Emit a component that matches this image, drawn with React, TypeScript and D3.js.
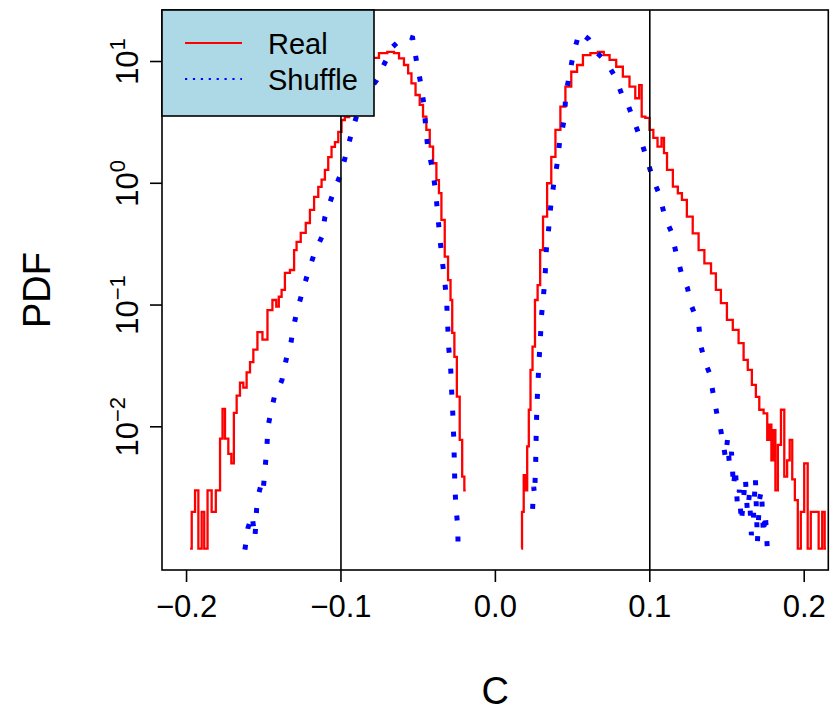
import React from "react";
import * as d3 from "d3";

// ---- data (C value, PDF value) ----
const realLeftC = [-0.1977,-0.1956,-0.1934,-0.1913,-0.1891,-0.1880,-0.1848,-0.1827,-0.1794,-0.1772,-0.1762,-0.1740,-0.1719,-0.1701,-0.1686,-0.1665,-0.1643,-0.1622,-0.1600,-0.1578,-0.1557,-0.1525,-0.1492,-0.1460,-0.1428,-0.1410,-0.1395,-0.1374,-0.1352,-0.1309,-0.1298,-0.1277,-0.1244,-0.1212,-0.1190,-0.1158,-0.1136,-0.1115,-0.1093,-0.1072,-0.1050,-0.1028,-0.1007,-0.0986,-0.0964,-0.0930,-0.0891,-0.0852,-0.0813,-0.0781,-0.0727,-0.0673,-0.0640,-0.0608,-0.0576,-0.0554,-0.0533,-0.0501,-0.0479,-0.0458,-0.0436,-0.0414,-0.0393,-0.0371,-0.0360,-0.0339,-0.0317,-0.0296,-0.0285,-0.0274,-0.0257,-0.0242,-0.0220,-0.0210,-0.0192];
const realLeftP = [0.001,0.002,0.003,0.001,0.002,0.001,0.003,0.002,0.003,0.008,0.014,0.008,0.006,0.005,0.013,0.018,0.023,0.021,0.028,0.034,0.043,0.060,0.052,0.091,0.110,0.097,0.117,0.133,0.184,0.194,0.283,0.330,0.391,0.472,0.604,0.772,0.933,1.07,1.29,1.64,1.99,2.18,2.64,3.31,3.50,4.4,5.5,6.8,8.2,10.7,11.7,12.0,11.7,10.6,9.36,8.0,6.62,5.31,4.40,3.52,2.74,2.00,1.46,1.06,0.83,0.50,0.25,0.16,0.110,0.059,0.0375,0.0177,0.0078,0.0039,0.0030];

const realRightC = [0.0168,0.0177,0.0190,0.0201,0.0211,0.0222,0.0233,0.0248,0.0265,0.0282,0.0298,0.0319,0.0351,0.0373,0.0405,0.0437,0.0470,0.0513,0.0545,0.0589,0.0642,0.0686,0.0718,0.0761,0.0804,0.0847,0.0890,0.0922,0.0940,0.0955,0.0987,0.1009,0.1037,0.1063,0.1089,0.1095,0.1128,0.1171,0.1192,0.1224,0.1256,0.1300,0.1332,0.1375,0.1418,0.1438,0.1483,0.1516,0.1559,0.1591,0.1624,0.1645,0.1677,0.1697,0.1721,0.1753,0.1768,0.1781,0.1794,0.1807,0.1820,0.1839,0.1860,0.1882,0.1897,0.1915,0.1930,0.1949,0.1968,0.1988,0.2012,0.2033,0.2052,0.2078,0.2109,0.2124,0.2141];
const realRightP = [0.001,0.002,0.004,0.003,0.0069,0.0138,0.0293,0.0455,0.110,0.146,0.283,0.532,1.0,1.65,2.74,4.26,6.21,8.24,9.36,11.3,11.7,12.0,11.3,10.3,9.06,7.50,6.21,4.99,6.4,3.52,3.44,2.74,2.36,2.0,2.36,1.77,1.29,0.937,0.828,0.730,0.532,0.388,0.283,0.220,0.182,0.133,0.1035,0.0756,0.0625,0.0486,0.0354,0.0293,0.0221,0.0176,0.0138,0.0129,0.0078,0.0104,0.0053,0.0094,0.003,0.0071,0.0138,0.0039,0.0053,0.0078,0.0037,0.0025,0.001,0.002,0.005,0.001,0.002,0.002,0.001,0.002,0.001];

const shufLeftC = [-0.1622,-0.1602,-0.1576,-0.1557,-0.1544,-0.1531,-0.1518,-0.1505,-0.1492,-0.1479,-0.1473,-0.1447,-0.1428,-0.1408,-0.1382,-0.1350,-0.1331,-0.1311,-0.1285,-0.1246,-0.1214,-0.1169,-0.1124,-0.1104,-0.1059,-0.1007,-0.0968,-0.0930,-0.0891,-0.0846,-0.0807,-0.0768,-0.0729,-0.0665,-0.0619,-0.0574,-0.0536,-0.0510,-0.0484,-0.0464,-0.0451,-0.0438,-0.0406,-0.0386,-0.0373,-0.0360,-0.0347,-0.0328,-0.0315,-0.0309,-0.0302,-0.0289,-0.0283,-0.0276,-0.0270,-0.0266,-0.0263,-0.0257,-0.0244,-0.0241];
const shufLeftP = [0.00098,0.00148,0.00189,0.00122,0.00237,0.00287,0.00333,0.00292,0.00442,0.0071,0.00998,0.01456,0.01827,0.0201,0.0243,0.0382,0.0428,0.0625,0.0895,0.133,0.184,0.273,0.362,0.528,0.773,1.15,1.71,2.64,3.85,5.01,6.05,7.04,9.01,13.2,15.0,16.2,15.6,9.9,6.66,4.56,2.90,1.95,1.29,0.832,0.549,0.362,0.248,0.158,0.104,0.0687,0.0445,0.0293,0.0194,0.0130,0.00826,0.00535,0.00353,0.00237,0.00151,0.00100];

const shufRightC = [0.0241,0.0248,0.0254,0.0261,0.0265,0.0269,0.0276,0.0282,0.0291,0.0298,0.0312,0.0323,0.0330,0.0345,0.0358,0.0377,0.0401,0.0416,0.0448,0.0455,0.0481,0.0508,0.0545,0.0603,0.0653,0.0718,0.0776,0.0825,0.0847,0.0890,0.0938,0.0983,0.1019,0.1063,0.1098,0.1140,0.1173,0.1208,0.1244,0.1268,0.1317,0.1332,0.1360,0.1386,0.1412,0.1438,0.1457,0.1477,0.1490,0.1503,0.1516,0.1529,0.1542,0.1554,0.1567,0.1580,0.1593,0.1606,0.1619,0.1632,0.1645,0.1658,0.1671,0.1684,0.1697,0.1710,0.1723,0.1736,0.1748,0.1761,0.1787,0.1820];
const shufRightP = [0.00212,0.00321,0.00276,0.00506,0.0098,0.0149,0.0229,0.0341,0.0518,0.0798,0.121,0.184,0.283,0.422,0.639,0.968,1.47,2.18,3.44,5.21,8.05,12.0,17.5,15.3,12.0,9.9,7.47,5.12,4.83,3.44,2.36,1.55,1.10,0.801,0.528,0.398,0.258,0.177,0.138,0.100,0.0687,0.0453,0.0335,0.0277,0.0183,0.0121,0.0098,0.0071,0.00556,0.0078,0.00487,0.00622,0.00321,0.0046,0.00229,0.00303,0.00163,0.00251,0.0038,0.0020,0.00276,0.00129,0.00179,0.0038,0.00113,0.00251,0.00303,0.00129,0.00196,0.001,0.001,0.001];

const xTicks = [-0.2, -0.1, 0.0, 0.1, 0.2];
const xTickLabels = ["\u22120.2", "\u22120.1", "0.0", "0.1", "0.2"];
const yTicks = [10, 1, 0.1, 0.01];
const yTickExp = ["1", "0", "\u22121", "\u22122"];
const refLines = [-0.1, 0.1];
const legendLabels = ["Real", "Shuffle"];

const W = 833, H = 715;
const L = 162, R = 828.3, T = 10, B = 570;
const FONT = "Liberation Sans, Arial, Helvetica, sans-serif";

export default function App() {
  const x = d3.scaleLinear().domain([-0.2159, 0.2156]).range([L, R]);
  const y = d3.scaleLog().domain([Math.pow(10, -3.176), Math.pow(10, 1.423)]).range([B, T]);

  const zip = (cs: number[], ps: number[]) => cs.map((c, i) => [c, ps[i]] as [number, number]);
  const stepLine = d3.line<[number, number]>().x(d => x(d[0])).y(d => y(d[1])).curve(d3.curveStep);
  const line = d3.line<[number, number]>().x(d => x(d[0])).y(d => y(d[1]));

  const realPaths = [zip(realLeftC, realLeftP), zip(realRightC, realRightP)].map(d => stepLine(d) as string);
  const shufPaths = [zip(shufLeftC, shufLeftP), zip(shufRightC, shufRightP)].map(d => line(d) as string);

  return (
    <svg width={W} height={H} style={{ position: "absolute", left: 0, top: 0, background: "#fff" }} fontFamily={FONT}>
      <defs>
        <clipPath id="plotClip">
          <rect x={L} y={T} width={R - L} height={B - T} />
        </clipPath>
      </defs>
      <rect x={0} y={0} width={W} height={H} fill="#fff" />
      <g clipPath="url(#plotClip)">
        {realPaths.map((p, i) => (
          <path key={"r" + i} d={p} fill="none" stroke="#ff0000" strokeWidth={2.3} />
        ))}
        {shufPaths.map((p, i) => (
          <path key={"s" + i} d={p} fill="none" stroke="#0000ff" strokeWidth={5} strokeDasharray="5 16" />
        ))}
      </g>
      {refLines.map(v => (
        <line key={v} x1={x(v)} x2={x(v)} y1={T} y2={B} stroke="#000" strokeWidth={1.6} />
      ))}
      <rect x={L} y={T} width={R - L} height={B - T} fill="none" stroke="#000" strokeWidth={1.6} />
      {/* x axis */}
      {xTicks.map((t, i) => (
        <g key={"xt" + i}>
          <line x1={x(t)} x2={x(t)} y1={B} y2={B + 12} stroke="#000" strokeWidth={1.6} />
          <text x={x(t)} y={B + 47} fontSize={31} textAnchor="middle" fill="#000">{xTickLabels[i]}</text>
        </g>
      ))}
      {/* y axis */}
      {yTicks.map((t, i) => (
        <g key={"yt" + i}>
          <line x1={L - 12} x2={L} y1={y(t)} y2={y(t)} stroke="#000" strokeWidth={1.6} />
          <g transform={`translate(${L - 14},${y(t)}) rotate(-90)`}>
            <text x={0} y={-10} fontSize={31} textAnchor="middle" fill="#000">
              10<tspan fontSize={22} dy={-13}>{yTickExp[i]}</tspan>
            </text>
          </g>
        </g>
      ))}
      <text x={(L + R) / 2} y={704} fontSize={38} textAnchor="middle" fill="#000">C</text>
      <g transform={`translate(50,${(T + B) / 2}) rotate(-90)`}>
        <text x={0} y={0} fontSize={38} textAnchor="middle" fill="#000">PDF</text>
      </g>
      {/* legend */}
      <rect x={L} y={T} width={374 - L} height={116 - T} fill="#add8e6" stroke="#000" strokeWidth={1.6} />
      <line x1={185} x2={242} y1={43} y2={43} stroke="#ff0000" strokeWidth={2} />
      <line x1={185} x2={242} y1={79} y2={79} stroke="#0000ff" strokeWidth={2.2} strokeDasharray="2.2 5.7" />
      <text x={268} y={54} fontSize={29} fill="#000">{legendLabels[0]}</text>
      <text x={268} y={90} fontSize={29} fill="#000">{legendLabels[1]}</text>
    </svg>
  );
}
